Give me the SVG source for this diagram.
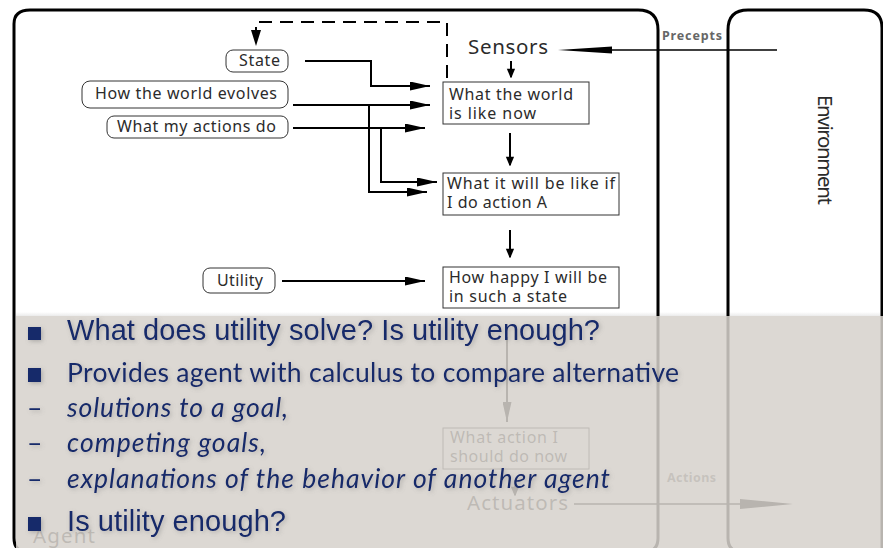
<svg xmlns="http://www.w3.org/2000/svg" width="883" height="548" viewBox="0 0 883 548">
<defs>
<style>
.frame{fill:none;stroke:#000;stroke-width:3}
.lbl{font-family:"Noto Sans","Open Sans",sans-serif;font-size:16px;fill:#2b2b2b}
.big{font-family:"Noto Sans","Open Sans",sans-serif;font-size:20.5px;fill:#2b2b2b}
.small{font-family:"Noto Sans","Open Sans",sans-serif;font-size:12.5px;font-weight:bold;fill:#666}
.box{fill:#fff;stroke:#333;stroke-width:1}
.wire{fill:none;stroke:#000;stroke-width:2}
.bul{font-family:"Liberation Sans",Arial,sans-serif;font-size:29px;fill:#13296b}
.cal{font-family:Lato,"Open Sans",sans-serif;font-size:26.5px;fill:#13296b}
.it{font-style:italic}
.sq{fill:#13296b}
</style>
<marker id="ah" viewBox="0 0 20 9" refX="20" refY="4.5" markerWidth="20" markerHeight="9" markerUnits="userSpaceOnUse" orient="auto"><path d="M0,0 L20,4.5 L0,9 z" fill="#000"/></marker>
<marker id="ahs" viewBox="0 0 10 12" refX="10" refY="5" markerWidth="10" markerHeight="10" markerUnits="userSpaceOnUse" orient="auto"><path d="M0,0 L12,5 L0,10 z" fill="#000"/></marker>
<filter id="shade" x="-5%" y="-30%" width="110%" height="160%"><feDropShadow dx="1.5" dy="1.5" stdDeviation="2" flood-color="#777" flood-opacity="0.45"/></filter>
<linearGradient id="edge" x1="0" y1="0" x2="0" y2="1"><stop offset="0" stop-color="#000" stop-opacity="0"/><stop offset="1" stop-color="#000" stop-opacity="0.08"/></linearGradient>
</defs>
<rect width="883" height="548" fill="#fff"/>

<!-- outer frames -->
<g id="agent-frame"><path class="frame" d="M14,538 L14,24 Q14,10 30,10 L638,10 Q658,10 658,30 L658,538 Q658,552 644,552 L28,552 Q14,552 14,538 Z"/>
<text x="33" y="543" class="big" textLength="62" lengthAdjust="spacing">Agent</text></g>
<g id="environment"><path class="frame" d="M742,552 Q728,552 728,538 L728,30 Q728,10 748,10 L864,10 Q882,10 882,28 L882,560"/>
<text class="big" x="818" y="150" text-anchor="middle" transform="rotate(90 818 150)" textLength="110" lengthAdjust="spacing">Environment</text></g>

<!-- input labels -->
<g id="state"><rect class="box" x="226" y="50" width="62" height="22" rx="7"/><text class="lbl" x="239" y="66" textLength="41" lengthAdjust="spacing">State</text></g>
<g id="world-evolves"><rect class="box" x="82" y="81" width="206" height="27" rx="8"/><text class="lbl" x="95" y="99" textLength="182" lengthAdjust="spacing">How the world evolves</text></g>
<g id="actions-do"><rect class="box" x="107" y="116" width="181" height="22" rx="7"/><text class="lbl" x="117" y="132" textLength="159" lengthAdjust="spacing">What my actions do</text></g>
<g id="utility"><rect class="box" x="203" y="268" width="72" height="25" rx="7"/><text class="lbl" x="217" y="286" textLength="46" lengthAdjust="spacing">Utility</text></g>

<!-- processing chain -->
<g id="sensors"><text class="big" x="468" y="54" textLength="80" lengthAdjust="spacing">Sensors</text></g>
<g id="world-now"><rect class="box" x="443" y="82" width="146" height="42"/><text class="lbl" x="449" y="100" textLength="124" lengthAdjust="spacing">What the world</text><text class="lbl" x="449" y="119" textLength="87" lengthAdjust="spacing">is like now</text></g>
<g id="will-be"><rect class="box" x="443" y="173" width="176" height="42"/><text class="lbl" x="447" y="189" textLength="168" lengthAdjust="spacing">What it will be like if</text><text class="lbl" x="447" y="208" textLength="100" lengthAdjust="spacing">I do action A</text></g>
<g id="happy"><rect class="box" x="443" y="267" width="176" height="41"/><text class="lbl" x="449" y="283" textLength="158" lengthAdjust="spacing">How happy I will be</text><text class="lbl" x="449" y="302" textLength="118" lengthAdjust="spacing">in such a state</text></g>
<g id="action-now"><rect class="box" x="443" y="428" width="146" height="41"/><text class="lbl" x="450" y="443" textLength="108" lengthAdjust="spacing">What action I</text><text class="lbl" x="450" y="462" textLength="117" lengthAdjust="spacing">should do now</text></g>
<g id="actuators"><text class="big" x="467" y="510" textLength="101" lengthAdjust="spacing">Actuators</text></g>
<g id="labels"><text class="small" x="662" y="40" textLength="60" lengthAdjust="spacing">Precepts</text><text class="small" x="667" y="482" textLength="49" lengthAdjust="spacing">Actions</text></g>

<!-- connectors -->
<g id="connectors">
<path class="wire" d="M447,78 L447,22 L256,22 L256,46" stroke-dasharray="13,8"/>
<path d="M251,30 L261,30 L256,46 Z" fill="#000"/>
<path class="wire" d="M305,61 L371,61 L371,86 L430,86" marker-end="url(#ah)"/>
<path class="wire" d="M293,105 L430,105" marker-end="url(#ah)"/>
<path class="wire" d="M293,128 L425,128" marker-end="url(#ah)"/>
<path class="wire" d="M369,105 L369,192 L427,192" marker-end="url(#ah)"/>
<path class="wire" d="M381,128 L381,182 L437,182" marker-end="url(#ah)"/>
<path class="wire" d="M282,281 L425,281" marker-end="url(#ah)"/>
<path class="wire" d="M511,61 L511,77" marker-end="url(#ahs)"/>
<path class="wire" d="M510,133 L510,165" marker-end="url(#ahs)"/>
<path class="wire" d="M510,230 L510,257" marker-end="url(#ahs)"/>
<path class="wire" d="M507,337 L507,422" marker-end="url(#ah)"/>
<path class="wire" d="M515,480 L515,495" marker-end="url(#ahs)"/>
<path d="M612,50 L777,50" stroke="#000" stroke-width="1.5"/>
<path d="M558,50 L612,46.5 L612,53.5 Z" fill="#000"/>
<path d="M574,504 L740,504" stroke="#000" stroke-width="1.5"/>
<path d="M793,504 L740,499 L740,509 Z" fill="#000"/>
</g>

<!-- translucent bullet panel -->
<g id="text-panel">
<rect x="16" y="316" width="867" height="232" fill="rgb(214,210,204)" fill-opacity="0.86"/>
<rect x="16" y="312" width="867" height="4" fill="url(#edge)"/>
<g filter="url(#shade)">
<rect class="sq" x="28" y="327" width="13" height="13"/>
<text class="bul" x="67" y="340" textLength="533" lengthAdjust="spacing">What does utility solve? Is utility enough?</text>
<rect class="sq" x="28" y="368" width="13" height="14"/>
<text class="cal" x="67" y="382" textLength="612" lengthAdjust="spacing">Provides agent with calculus to compare alternative</text>
<text class="cal" x="27" y="417">–</text>
<text class="cal it" x="67" y="417" textLength="221" lengthAdjust="spacing">solutions to a goal,</text>
<text class="cal" x="27" y="452">–</text>
<text class="cal it" x="67" y="452" textLength="199" lengthAdjust="spacing">competing goals,</text>
<text class="cal" x="27" y="488">–</text>
<text class="cal it" x="67" y="488" textLength="543" lengthAdjust="spacing">explanations of the behavior of another agent</text>
<rect class="sq" x="28" y="517" width="13" height="14"/>
<text class="bul" x="67" y="531" textLength="219" lengthAdjust="spacing">Is utility enough?</text>
</g>
</g>
</svg>
